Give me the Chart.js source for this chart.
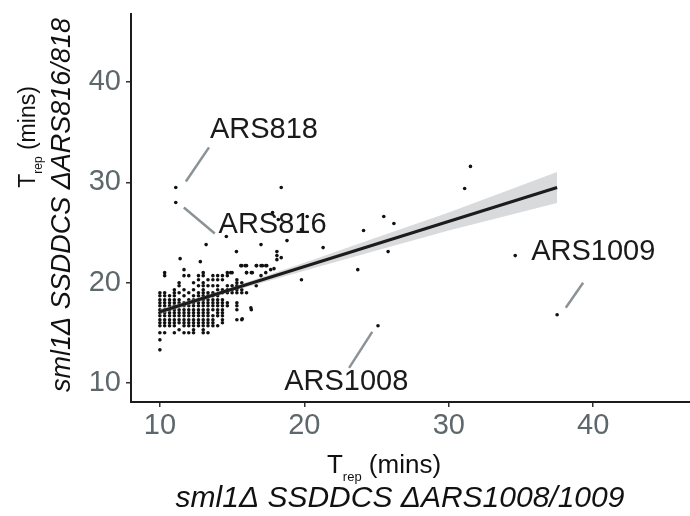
<!DOCTYPE html>
<html>
<head>
<meta charset="utf-8">
<script src="https://cdn.jsdelivr.net/npm/chart.js@4.4.1/dist/chart.umd.min.js"></script>
<style>
  html, body { margin: 0; padding: 0; background: #fff; }
  #wrap { width: 690px; height: 516px; }
</style>
</head>
<body>
<div id="wrap"><canvas id="c" width="690" height="516"></canvas></div>
<script>
// tick values
const xTicks = [10, 20, 30, 40];
const yTicks = [10, 20, 30, 40];

// dense cluster, read column by column (x, then the y values in that column)
const colX = [10, 10.33, 10.67, 11, 11.33, 11.67, 12, 12.33, 12.67, 13, 13.33, 13.67,
              14, 14.33, 14.67, 15, 15.33, 15.67, 16, 16.33, 16.67, 17, 17.33, 17.67];
const colY = [
  [13.3, 14.3, 15, 15.7, 16, 16.3, 16.7, 17, 17.3, 17.7, 18, 18.3, 18.7, 19],
  [15, 15.7, 16, 16.3, 16.7, 17, 17.3, 17.7, 18, 18.3, 18.7, 19, 20.7, 21],
  [15.7, 16, 16.3, 16.7, 17, 17.3, 17.7, 18, 18.3, 18.7],
  [15, 15.7, 16, 16.3, 16.7, 17, 17.3, 17.7, 18, 18.3, 18.7, 19, 19.3],
  [15.3, 16, 16.3, 16.7, 17, 17.3, 17.7, 18, 18.3, 19, 19.7, 20],
  [15, 15.7, 16, 16.3, 16.7, 17, 17.3, 17.7, 18, 18.7, 19.3, 20.7, 21.3],
  [15, 15.7, 16, 16.3, 16.7, 17, 17.3, 17.7, 18, 18.3, 19, 20.7],
  [15, 15.3, 15.7, 16, 16.3, 16.7, 17, 17.3, 17.7, 18, 18.3, 18.7, 19.3, 20],
  [15.7, 16, 16.3, 16.7, 17, 17.3, 17.7, 18, 18.3, 18.7, 19, 19.7, 20.3, 20.7],
  [15, 15.3, 15.7, 16, 16.3, 16.7, 17, 17.3, 17.7, 18, 18.3, 18.7, 19, 19.3, 19.7, 20, 20.7, 21],
  [15, 15.7, 16, 16.3, 16.7, 17, 17.3, 17.7, 18, 18.3, 18.7, 19, 19.7, 20.3],
  [15.7, 16, 16.3, 16.7, 17.3, 17.7, 18, 18.3, 18.7, 19, 19.7, 20.3, 20.7],
  [15.7, 16.7, 17, 17.3, 17.7, 18, 18.3, 18.7, 19.3, 19.7, 20.3, 20.7],
  [16, 16.3, 16.7, 17, 17.3, 17.7, 18, 18.3, 19, 19.3, 20.3, 20.7],
  [17.7, 18, 19, 19.3, 19.7, 20.7, 21],
  [19, 19.3, 19.7, 21],
  [16.3, 17.3, 17.7, 18, 19, 19.3, 19.7, 20, 20.3],
  [16.3, 19, 19.3, 20, 21.7],
  [19, 21, 21.7],
  [17.3, 21],
  [19.7, 21.7],
  [20.7, 21.7],
  [21, 21.7],
  [21.3]
];

// scattered points outside the cluster
const outlierPts = [
  [11.1, 29.5], [11.1, 28.0], [18.4, 29.5], [17.8, 27.0], [18.2, 26.3], [14.6, 24.6],
  [13.2, 23.8], [15.3, 23.1], [17.0, 23.8], [18.8, 24.2], [21.3, 23.5], [11.4, 22.4],
  [12.8, 22.1], [18.1, 22.3], [18.1, 22.7], [18.1, 23.1], [18.4, 22.5], [19.8, 20.3],
  [16.3, 17.5], [15.7, 16.4], [31.5, 31.6], [31.1, 29.4], [25.5, 26.6], [26.2, 25.9],
  [24.1, 25.2], [20.2, 26.6], [19.8, 25.3], [25.8, 23.1], [23.7, 21.3], [34.6, 22.7],
  [37.5, 16.8], [25.1, 15.7], [15.6, 21.7], [15.9, 21.7], [16.7, 21.7], [17.1, 21.7],
  [17.4, 21.7], [16.0, 21.0], [16.4, 21.0], [17.9, 21.4], [14.9, 21.0]
];

// fitted line and confidence band
const fitX = [10, 37.5];
const fitY = [17.1, 29.5];
const bandX = [10, 15, 20, 25, 30, 37.5];
const bandLow = [16.8, 19.15, 21.2, 23.2, 25.2, 27.95];
const bandHigh = [17.4, 19.55, 22.0, 24.5, 27.0, 31.05];

// point labels: text, text position, connector segment (data units)
const labelText = ['ARS818', 'ARS816', 'ARS1009', 'ARS1008'];
const labelPos = [[17.2, 35.2], [17.8, 25.8], [40.0, 23.1], [22.9, 10.1]];
const labelSeg = [
  [[11.8, 30.1], [13.4, 33.5]],
  [[11.66, 27.5], [13.8, 24.9]],
  [[38.1, 17.5], [39.3, 20.0]],
  [[23.1, 11.5], [24.7, 15.1]]
];

const scatterData = [];
colX.forEach((x, i) => colY[i].forEach(y => scatterData.push({ x: x, y: y })));
outlierPts.forEach(p => scatterData.push({ x: p[0], y: p[1] }));

const FONT = '"Liberation Sans", Arial, Helvetica, sans-serif';

function drawRuns(ctx, runs, cx, cy, rot) {
  // runs: [{t, font, dy}] drawn left to right, centred on cx
  ctx.save();
  ctx.translate(cx, cy);
  if (rot) ctx.rotate(rot);
  let total = 0;
  runs.forEach(r => { ctx.font = r.font; total += ctx.measureText(r.t).width; });
  let x = -total / 2;
  ctx.textBaseline = 'alphabetic';
  ctx.textAlign = 'left';
  runs.forEach(r => {
    ctx.font = r.font;
    ctx.fillText(r.t, x, r.dy || 0);
    x += ctx.measureText(r.t).width;
  });
  ctx.restore();
}

const annot = {
  id: 'annot',
  afterDatasetsDraw(chart) {
    const ctx = chart.ctx, xs = chart.scales.x, ys = chart.scales.y;
    ctx.save();
    ctx.strokeStyle = '#8b9397';
    ctx.lineWidth = 2.5;
    labelSeg.forEach(s => {
      ctx.beginPath();
      ctx.moveTo(xs.getPixelForValue(s[0][0]), ys.getPixelForValue(s[0][1]));
      ctx.lineTo(xs.getPixelForValue(s[1][0]), ys.getPixelForValue(s[1][1]));
      ctx.stroke();
    });
    ctx.fillStyle = '#1a1a1a';
    ctx.font = '29px ' + FONT;
    ctx.textAlign = 'center';
    ctx.textBaseline = 'middle';
    labelText.forEach((t, i) => {
      ctx.fillText(t, xs.getPixelForValue(labelPos[i][0]), ys.getPixelForValue(labelPos[i][1]));
    });
    ctx.restore();
  },
  afterDraw(chart) {
    const ctx = chart.ctx;
    ctx.save();
    ctx.fillStyle = '#111';
    // x axis title
    drawRuns(ctx, [{ t: 'T', font: '26px ' + FONT }, { t: 'rep', font: '13px ' + FONT, dy: 8 },
                   { t: ' (mins)', font: '26px ' + FONT }], 384, 473, 0);
    drawRuns(ctx, [{ t: 'sml1\u0394 SSDDCS \u0394ARS1008/1009', font: 'italic 30px ' + FONT }], 400, 507, 0);
    // y axis title
    drawRuns(ctx, [{ t: 'T', font: '23px ' + FONT }, { t: 'rep', font: '12px ' + FONT, dy: 7 },
                   { t: ' (mins)', font: '23px ' + FONT }], 35, 137, -Math.PI / 2);
    drawRuns(ctx, [{ t: 'sml1\u0394 SSDDCS \u0394ARS816/818', font: 'italic 27px ' + FONT }], 70, 205, -Math.PI / 2);
    ctx.restore();
  }
};

const tickStyle = { color: '#5d686c', font: { family: FONT, size: 29 } };

new Chart(document.getElementById('c'), {
  type: 'scatter',
  data: {
    datasets: [
      {
        type: 'line',
        data: fitX.map((x, i) => ({ x: x, y: fitY[i] })),
        borderColor: '#1c1c1c',
        borderWidth: 3,
        pointRadius: 0,
        order: 1
      },
      {
        type: 'line',
        data: bandX.map((x, i) => ({ x: x, y: bandHigh[i] })),
        borderWidth: 0,
        borderColor: 'rgba(0,0,0,0)',
        pointRadius: 0,
        fill: '+1',
        backgroundColor: 'rgba(160,162,168,0.4)',
        order: 2
      },
      {
        type: 'line',
        data: bandX.map((x, i) => ({ x: x, y: bandLow[i] })),
        borderWidth: 0,
        borderColor: 'rgba(0,0,0,0)',
        pointRadius: 0,
        fill: false,
        order: 2
      },
      {
        data: scatterData,
        backgroundColor: '#111',
        borderWidth: 0,
        pointRadius: 1.8,
        order: 3
      }
    ]
  },
  options: {
    responsive: false,
    animation: false,
    layout: { autoPadding: false, padding: { top: 14, right: 0, left: 0, bottom: 0 } },
    plugins: { legend: { display: false }, tooltip: { enabled: false } },
    scales: {
      x: {
        type: 'linear',
        min: 8.0,
        max: 46.7,
        afterBuildTicks: s => { s.ticks = xTicks.map(v => ({ value: v })); },
        afterFit: s => { s.height = 114; s.paddingLeft = 0; s.paddingRight = 0; },
        grid: { drawOnChartArea: false, drawTicks: true, tickLength: 5, color: '#333', lineWidth: 1.5 },
        border: { display: true, color: '#1c1c1c', width: 2 },
        ticks: Object.assign({ padding: 2, maxRotation: 0 }, tickStyle)
      },
      y: {
        type: 'linear',
        min: 8.1,
        max: 46.8,
        afterBuildTicks: s => { s.ticks = yTicks.map(v => ({ value: v })); },
        afterFit: s => { s.width = 131; s.paddingTop = 0; s.paddingBottom = 0; },
        grid: { drawOnChartArea: false, drawTicks: true, tickLength: 5, color: '#333', lineWidth: 1.5 },
        border: { display: true, color: '#1c1c1c', width: 2 },
        ticks: Object.assign({ padding: 5 }, tickStyle)
      }
    }
  },
  plugins: [annot]
});
</script>
</body>
</html>
